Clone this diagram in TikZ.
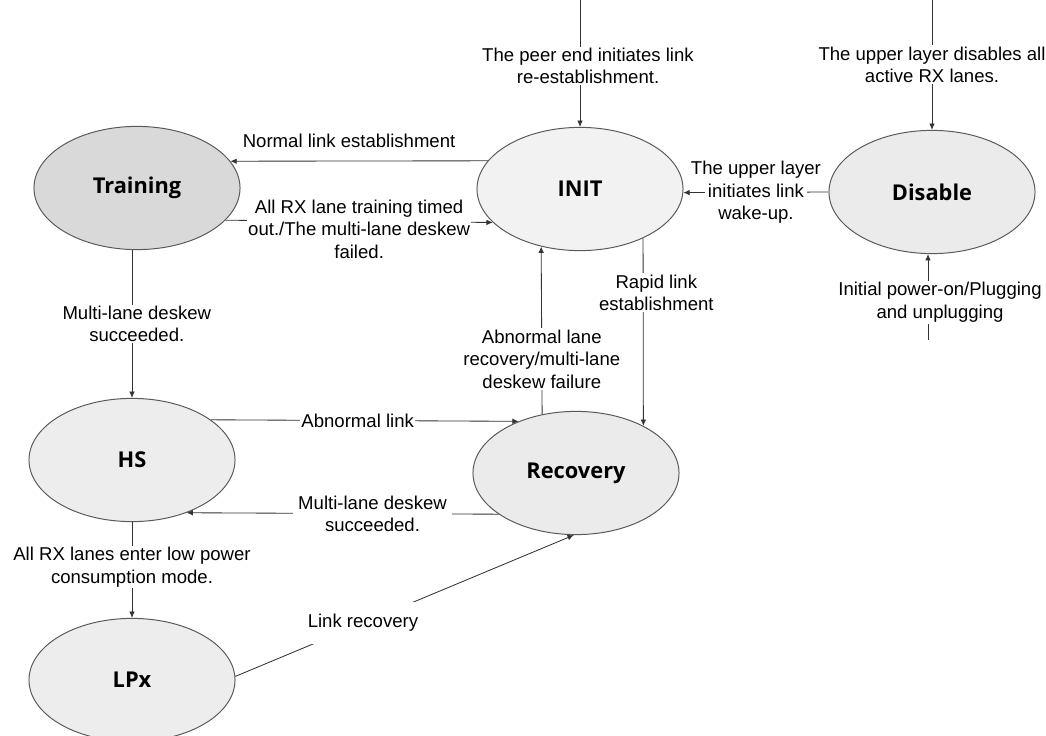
\documentclass[tikz,border=0pt]{standalone}
\usepackage{fontspec}
\setmainfont{Liberation Sans}
\newfontfamily\statefont{Open Sans}
\usetikzlibrary{shapes.geometric,arrows.meta}

\tikzset{
  state/.style={ellipse, draw=black!65, line width=0.7pt, fill=black!8,
    minimum width=5.15cm, minimum height=3.08cm,
    font=\statefont\bfseries\fontsize{15.5}{18}\selectfont},
  trans/.style={draw=black!80, line width=0.6pt, -{Latex[length=4.5pt,width=4pt]}},
  lbl/.style={fill=white, inner sep=1pt, align=center,
    font=\fontsize{13.2}{16}\selectfont},
}

\begin{document}
\begin{tikzpicture}[x=0.025cm,y=-0.025cm]
\useasboundingbox (0,0) rectangle (1046,736);

\node (Train) at (137,188) [state, fill=black!15]{Training};
\node (Init) at (580,189) [state, fill=black!5]{INIT};
\node (Disable) at (932,192) [state]{Disable};
\node (HS) at (132,460) [state, fill=black!7]{HS};
\node (LPx) at (132,680) [state, fill=black!7]{LPx};
\node (Recovery) at (576,473) [state]{Recovery};

\coordinate (peer) at (580,0);
\coordinate (upper) at (932,0);
\coordinate (power) at (928,340);

\draw [trans] (peer) -- node[lbl, pos=0.52, xshift=0.2cm]{The peer end initiates link\\re-establishment.} (Init.north);
\draw [trans] (upper) -- node[lbl, pos=0.5]{The upper layer disables all\\active RX lanes.} (Disable.north);
\draw [trans] (power) -- node[lbl, pos=0.44, xshift=0.3cm]{Initial power-on/Plugging\\and unplugging} (power |- Disable.south);

\draw [trans] (Disable.west) -- node[lbl, inner xsep=-10pt]{The upper layer\\initiates link\\wake-up.} (Init.-2);

\draw [trans] (Init.163) -- node[lbl, above=8pt, xshift=-0.25cm]{Normal link establishment} (Train.16.5);
\draw [trans] (Train.-20.3) -- node[lbl, yshift=-0.2cm]{All RX lane training timed\\out./The multi-lane deskew\\failed.} (Init.-159.6);

\draw [trans] (Init.-38.3) -- node[lbl, pos=0.29, xshift=0.33cm]{Rapid link\\establishment} (Recovery.35.3);
\draw [trans] (Recovery.120.6) -- node[lbl, pos=0.33]{Abnormal lane\\recovery/multi-lane\\deskew failure} (Init.236.4);

\draw [trans] (Train.south -| HS.north) -- node[lbl, xshift=0.12cm]{Multi-lane deskew\\succeeded.} (HS.north);
\draw [trans] (HS.south) -- node[lbl, pos=0.47]{All RX lanes enter low power\\consumption mode.} (LPx.north);

\draw [trans] (HS.27.6) -- node[lbl, pos=0.477]{Abnormal link} (Recovery.138.3);
\draw [trans] (Recovery.-152.8) -- node[lbl, pos=0.404, inner xsep=4pt]{Multi-lane deskew\\succeeded.} (HS.-44.4);
\draw [trans] (LPx.2) -- node[lbl, pos=0.377, inner ysep=0.3cm]{Link recovery} (Recovery.-92);

\end{tikzpicture}
\end{document}
